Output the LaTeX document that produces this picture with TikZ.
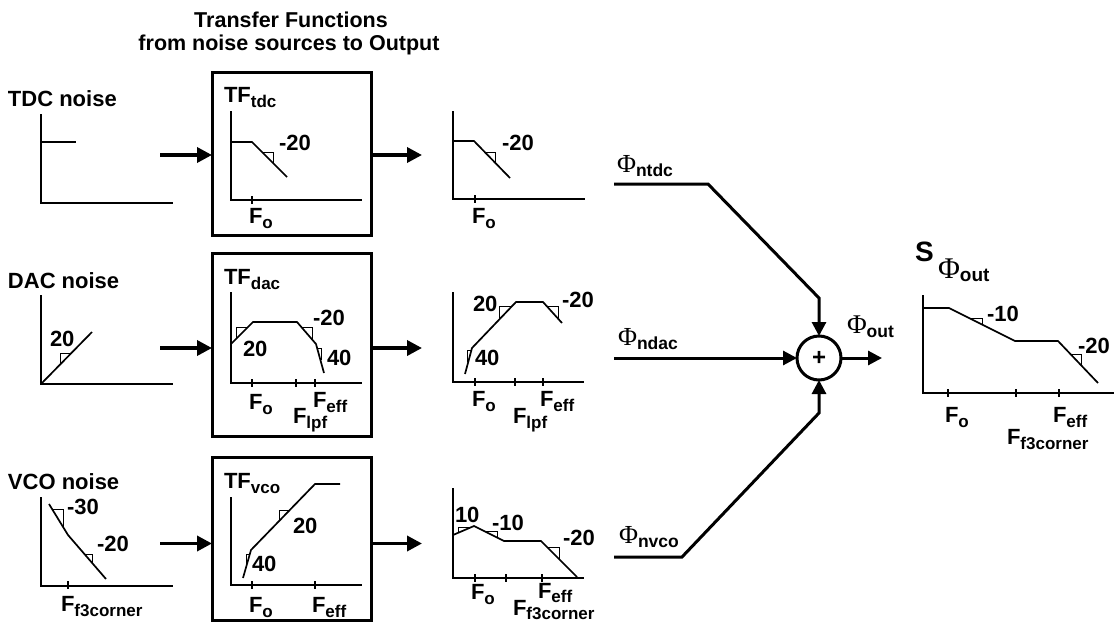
\documentclass[tikz,border=0pt]{standalone}
\usepackage{fontspec}
\setmainfont{Liberation Sans}
\newfontfamily\phifont{Liberation Serif}
\usetikzlibrary{arrows.meta}
\newcommand\sbs[1]{\raisebox{-5pt}{\fontsize{17}{17}\selectfont #1}}
\newcommand\Phis[2][26]{{\phifont\mdseries\fontsize{#1}{#1}\selectfont Φ}\raisebox{-4pt}{\fontsize{17.5}{17.5}\selectfont\bfseries #2}}
\tikzset{
  every node/.style={inner sep=0pt, outer sep=0pt},
  lbl/.style={anchor=base west, font=\fontsize{22}{22}\selectfont\bfseries},
  ax/.style={line width=1.5pt},
  crv/.style={line width=1.7pt, line join=miter},
  tri/.style={line width=1pt},
  tfbox/.style={draw, line width=3pt, minimum width=159pt},
  fat/.style={line width=3.5pt, -{Triangle[length=15pt,width=15pt]}},
  warrow/.style={line width=3pt, -{Triangle[length=14pt,width=14pt]}},
}
\begin{document}
\begin{tikzpicture}[x=1pt,y=-1pt]
\useasboundingbox (0,0) rectangle (1114,624);

% title
\node[anchor=base, font=\fontsize{21.5}{23}\selectfont\bfseries] (t1) at (291,27) {Transfer Functions};
\node[anchor=base, font=\fontsize{21.5}{23}\selectfont\bfseries] (t2) at (289,50) {from noise sources to Output};

% source labels
\node[lbl] (n1) at (8,106) {TDC noise};
\node[lbl] (n2) at (8,288) {DAC noise};
\node[lbl] (n3) at (8,489) {VCO noise};

% ---------- input plots ----------
\draw[ax] (41,114) -- (41,203) -- (173,203);
\draw[crv] (41,142) -- (76,142);

\draw[ax] (41,295) -- (41,384) -- (173,384);
\draw[crv] (41,384) -- (92,332);
\draw[tri] (60,365) -- (60,353) -- (72,353);
\node[lbl] (n2a) at (50,346) {20};

\draw[ax] (41,497) -- (41,586) -- (173,586);
\draw[ax] (68,581) -- (68,589);
\draw[crv] (49,504) -- (68,535) -- (106,579);
\draw[tri] (52,509) -- (63,509) -- (63,527);
\draw[tri] (84.5,554) -- (92,554) -- (92,563);
\node[lbl] (n3a) at (67,514) {-30};
\node[lbl] (n3b) at (97,551) {-20};
\node[lbl] (n3c) at (61,611) {F\sbs{f3corner}};

% ---------- transfer function boxes ----------
\node[tfbox, minimum height=163pt] (tf1) at (291.5,153.5) {};
\node[tfbox, minimum height=183pt] (tf2) at (291.5,344.5) {};
\node[tfbox, minimum height=163pt] (tf3) at (291.5,538.5) {};

\node[lbl] (tf1l) at (224,102) {TF\sbs{tdc}};
\node[lbl] (tf2l) at (224,284) {TF\sbs{dac}};
\node[lbl] (tf3l) at (224,488) {TF\sbs{vco}};

% box 1 plot
\draw[ax] (231,111) -- (231,200) -- (362,200);
\draw[ax] (252,196) -- (252,204);
\draw[crv] (231,142) -- (252,142) -- (287,177);
\draw[tri] (262,152) -- (273,152) -- (273,163);
\node[lbl] (b1a) at (279,150) {-20};
\node[lbl] (b1b) at (249,223) {F\sbs{o}};

% box 2 plot
\draw[ax] (231,292) -- (231,383) -- (362,383);
\foreach \x in {252,296,315} \draw[ax] (\x,379) -- (\x,387);
\draw[crv] (231,344) -- (253,322) -- (297,322) -- (316,344) -- (324,373);
\draw[tri] (236,339) -- (236,327) -- (248,327);
\draw[tri] (301.3,327) -- (312,327) -- (312,339.4);
\draw[tri] (317.1,348) -- (321,348) -- (321,360);
\node[lbl] (b2a) at (243,356) {20};
\node[lbl] (b2b) at (313,325) {-20};
\node[lbl] (b2c) at (327,365) {40};
\node[lbl] (b2d) at (249,409) {F\sbs{o}};
\node[lbl] (b2e) at (313,407) {F\sbs{eff}};
\node[lbl] (b2f) at (293,423) {F\sbs{lpf}};

% box 3 plot
\draw[ax] (231,497) -- (231,585) -- (362,585);
\foreach \x in {252,315} \draw[ax] (\x,581) -- (\x,589);
\draw[crv] (243,578) -- (251,550) -- (315,484) -- (340,484);
\draw[tri] (279,521.1) -- (279,510) -- (289.8,510);
\draw[tri] (249.9,554) -- (246,554) -- (246,565);
\node[lbl] (b3a) at (293,533) {20};
\node[lbl] (b3b) at (252,571) {40};
\node[lbl] (b3c) at (249,612) {F\sbs{o}};
\node[lbl] (b3d) at (312,612) {F\sbs{eff}};

% ---------- arrows in / out ----------
\coordinate (i1) at (160,155);
\coordinate (i2) at (160,348);
\coordinate (i3) at (160,543.5);
\coordinate (o1) at (422,155);
\coordinate (o2) at (422,348);
\coordinate (o3) at (422,543.5);
\draw[fat] (i1) -- (i1 -| tf1.west);
\draw[fat] (i2) -- (i2 -| tf2.west);
\draw[fat] (i3) -- (i3 -| tf3.west);
\draw[fat] (o1 -| tf1.east) -- (o1);
\draw[fat] (o2 -| tf2.east) -- (o2);
\draw[fat] (o3 -| tf3.east) -- (o3);

% ---------- output plots ----------
\draw[ax] (453,111) -- (453,199) -- (585,199);
\draw[ax] (475,195) -- (475,203);
\draw[crv] (453,141) -- (474,141) -- (510,178);
\draw[tri] (484.7,152) -- (495,152) -- (495,162.6);
\node[lbl] (p1a) at (502,150) {-20};
\node[lbl] (p1b) at (472,223) {F\sbs{o}};

\draw[ax] (453,292) -- (453,382) -- (584,382);
\foreach \x in {475,515,543} \draw[ax] (\x,378) -- (\x,386);
\draw[crv] (465,374) -- (472,348) -- (516,302) -- (543,302) -- (562,323);
\draw[tri] (471.5,350) -- (467,350) -- (467,362);
\draw[tri] (499,319.8) -- (499,306) -- (512.2,306);
\draw[tri] (546.6,306) -- (558,306) -- (558,318.6);
\node[lbl] (p2a) at (473,311) {20};
\node[lbl] (p2b) at (562,307) {-20};
\node[lbl] (p2c) at (475,365) {40};
\node[lbl] (p2d) at (472,406) {F\sbs{o}};
\node[lbl] (p2e) at (540,406) {F\sbs{eff}};
\node[lbl] (p2f) at (513,423) {F\sbs{lpf}};

\draw[ax] (453,488) -- (453,578) -- (584,578);
\foreach \x in {475,506,542} \draw[ax] (\x,574) -- (\x,582);
\draw[crv] (453,535) -- (474,526) -- (504,541) -- (541,541) -- (577,577);
\draw[tri] (458,532.9) -- (458,527) -- (471.7,527);
\draw[tri] (484,531) -- (497,531) -- (497,537.5);
\draw[tri] (547,547) -- (559,547) -- (559,559);
\node[lbl] (p3a) at (455,522) {10};
\node[lbl] (p3b) at (492,530) {-10};
\node[lbl] (p3c) at (563,545) {-20};
\node[lbl] (p3d) at (471,599) {F\sbs{o}};
\node[lbl] (p3e) at (538,598) {F\raisebox{-4pt}{\fontsize{17}{17}\selectfont eff}};
\node[lbl] (p3f) at (513,615) {F\raisebox{-4pt}{\fontsize{17}{17}\selectfont f3corner}};

% ---------- summing node ----------
\node[circle, draw, line width=3pt, minimum size=44pt, font=\fontsize{24}{24}\selectfont\bfseries] (sum) at (819,358) {+};
\coordinate (a1) at (614,184);
\coordinate (b1) at (708,184);
\coordinate (c1) at (819,298);
\coordinate (a2) at (614,358);
\coordinate (a3) at (614,557);
\coordinate (b3) at (682,557);
\coordinate (c3) at (819,413);
\coordinate (o4) at (882,358);
\draw[warrow] (a1) -- (b1) -- (c1) -- (sum.north);
\draw[warrow] (a2) -- (sum.west);
\draw[warrow] (a3) -- (b3) -- (c3) -- (sum.south);
\draw[warrow] (sum.east) -- (o4);

\node[lbl] (phi1) at (617,172) {\Phis{ntdc}};
\node[lbl] (phi2) at (618,345) {\Phis{ndac}};
\node[lbl] (phi3) at (619,543) {\Phis{nvco}};
\node[lbl] (phio) at (847,333) {\Phis[27]{out}};

% ---------- final spectrum ----------
\node[anchor=base west, font=\fontsize{28}{28}\selectfont\bfseries] (S) at (915,261) {S};
\node[anchor=base west] (Sphi) at (938,278) {{\phifont\fontsize{30}{30}\selectfont Φ}\raisebox{-3pt}{\fontsize{19}{19}\selectfont\bfseries out}};
\draw[ax] (923,295) -- (923,393) -- (1114,393);
\foreach \x in {948,1016,1059} \draw[ax] (\x,389) -- (\x,397);
\draw[crv] (923,308) -- (949,308) -- (1015,341) -- (1058,341) -- (1098,383);
\draw[tri] (969,318) -- (982,318) -- (982,324.5);
\draw[tri] (1070.4,354) -- (1081,354) -- (1081,365.2);
\node[lbl] (f1) at (987,321) {-10};
\node[lbl] (f2) at (1078,353) {-20};
\node[lbl] (f3) at (945,422) {F\sbs{o}};
\node[lbl] (f4) at (1053,422) {F\sbs{eff}};
\node[lbl] (f5) at (1007,444) {F\sbs{f3corner}};
\end{tikzpicture}
\end{document}
